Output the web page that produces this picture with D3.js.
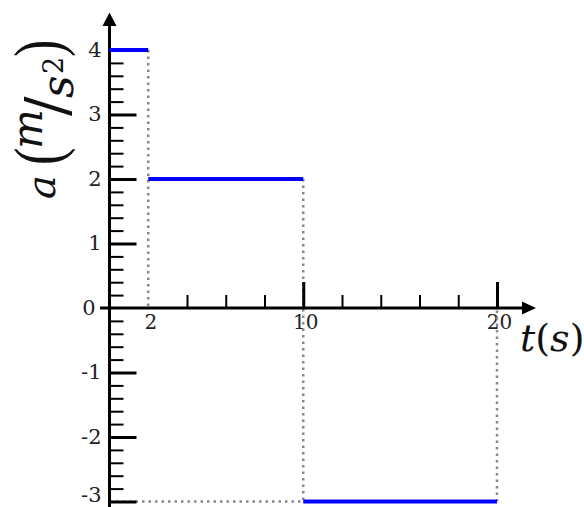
<!DOCTYPE html>
<html>
<head>
<meta charset="utf-8">
<script src="https://cdn.jsdelivr.net/npm/d3@7"></script>
<style>
  html, body { margin: 0; padding: 0; background: #ffffff; }
  svg { display: block; }
</style>
</head>
<body>
<div id="chart"></div>
<script>
// Piecewise-constant acceleration a(t)
const segStart = [0, 2, 10];
const segEnd   = [2, 10, 20];
const accel    = [4, 2, -3];

// Axis ticks
const yMajorTicks = [-3, -2, -1, 1, 2, 3];
const yLabelTicks = [-3, -2, -1, 0, 1, 2, 3, 4];
const yMinorTicks = [-2.8, -2.6, -2.4, -2.2, -1.8, -1.6, -1.4, -1.2, -0.8, -0.6, -0.4, -0.2,
                     0.2, 0.4, 0.6, 0.8, 1.2, 1.4, 1.6, 1.8, 2.2, 2.4, 2.6, 2.8, 3.2, 3.4, 3.6, 3.8];
const xMajorTicks = [10, 20];
const xMinorTicks = [4, 6, 8, 12, 14, 16, 18];
const xLabelTicks = [2, 10, 20];

const W = 584, H = 507;
const svg = d3.select("#chart").append("svg")
  .attr("width", W).attr("height", H)
  .style("background", "#fff");

const x = d3.scaleLinear().domain([0, 20]).range([109.5, 497]);
const y = d3.scaleLinear().domain([-3, 4]).range([501.5, 50]);

const serif = "'DejaVu Serif', serif";
const GRAY = "#888888";
const BLUE = "#0000ff";

// Tick labels on y (left of the axis)
const yLab = svg.append("g")
  .attr("transform", `translate(${x(0)},0)`)
  .call(d3.axisLeft(y).tickValues(yLabelTicks).tickSize(0).tickPadding(8)
        .tickFormat(d => d < 0 ? "-" + Math.abs(d) : String(d)));
yLab.select(".domain").remove();
yLab.selectAll("text")
  .attr("font-family", serif).attr("font-size", 21).attr("fill", "#222")
  .attr("dy", d => d === -3 ? "0.02em" : "0.3em")
  .attr("dx", d => d === 0 ? -6 : 0);

// Tick labels on t (below the axis)
const xLab = svg.append("g")
  .attr("transform", `translate(0,${y(0)})`)
  .call(d3.axisBottom(x).tickValues(xLabelTicks).tickSize(0).tickPadding(7));
xLab.select(".domain").remove();
xLab.selectAll("text")
  .attr("font-family", serif).attr("font-size", 20).attr("fill", "#222")
  .attr("dx", 2);

// Dotted guide lines at the jumps
const guides = [
  { x1: segEnd[0], y1: accel[0], x2: segEnd[0], y2: 0 },
  { x1: segEnd[1], y1: accel[1], x2: segEnd[1], y2: accel[2] },
  { x1: segEnd[2], y1: accel[2], x2: segEnd[2], y2: 0 },
  { x1: 0, y1: accel[2], x2: segStart[2], y2: accel[2] }
];
svg.append("g").selectAll("line").data(guides).join("line")
  .attr("x1", d => x(d.x1)).attr("y1", d => y(d.y1))
  .attr("x2", d => x(d.x2)).attr("y2", d => y(d.y2))
  .attr("stroke", GRAY).attr("stroke-width", 2.5)
  .attr("stroke-dasharray", "2.5,4");

// y ticks (pointing right)
function yTicks(vals, len, w) {
  const g = svg.append("g")
    .attr("transform", `translate(${x(0)},0)`)
    .call(d3.axisRight(y).tickValues(vals).tickSize(len).tickFormat(""));
  g.select(".domain").remove();
  g.selectAll("line").attr("stroke", "#000").attr("stroke-width", w);
}
yTicks(yMinorTicks, 14, 2);
yTicks(yMajorTicks, 27, 3);

// t ticks (pointing up)
function xTicks(vals, len, w) {
  const g = svg.append("g")
    .attr("transform", `translate(0,${y(0)})`)
    .call(d3.axisTop(x).tickValues(vals).tickSize(len).tickFormat(""));
  g.select(".domain").remove();
  g.selectAll("line").attr("stroke", "#000").attr("stroke-width", w);
}
xTicks(xMinorTicks, 13, 2);
xTicks(xMajorTicks, 26, 3);

// Axes with arrowheads
svg.append("line")
  .attr("x1", 100).attr("y1", y(0)).attr("x2", 526).attr("y2", y(0))
  .attr("stroke", "#000").attr("stroke-width", 3);
svg.append("path")
  .attr("d", `M522,${y(0) - 6.5} L536,${y(0)} L522,${y(0) + 6.5} Z`)
  .attr("fill", "#000");
svg.append("line")
  .attr("x1", x(0)).attr("y1", H).attr("x2", x(0)).attr("y2", 22)
  .attr("stroke", "#000").attr("stroke-width", 3);
svg.append("path")
  .attr("d", `M${x(0) - 7},26 L${x(0)},12.5 L${x(0) + 7},26 Z`)
  .attr("fill", "#000");

// Acceleration segments
svg.append("g").selectAll("line").data(accel).join("line")
  .attr("x1", (d, i) => x(segStart[i])).attr("x2", (d, i) => x(segEnd[i]))
  .attr("y1", d => y(d)).attr("y2", d => y(d))
  .attr("stroke", BLUE).attr("stroke-width", 4);

// Axis title t(s)
const tt = svg.append("text")
  .attr("x", 520).attr("y", 351)
  .attr("font-family", serif).attr("font-size", 38).attr("fill", "#111");
tt.append("tspan").attr("font-style", "italic").text("t");
tt.append("tspan").text("(");
tt.append("tspan").attr("font-style", "italic").text("s");
tt.append("tspan").text(")");

// Axis title a(m/s²), rotated; local coords: x along reading direction
const parenFont = "'Liberation Serif', serif";
const yt = svg.append("g").attr("transform", "rotate(-90)")
  .attr("font-family", serif).attr("fill", "#111");
yt.append("text").attr("x", -199).attr("y", 55)
  .attr("font-size", 40).attr("font-style", "italic").text("a");
yt.append("text").attr("transform", "translate(-165,61) scale(1,1.3)")
  .attr("font-family", parenFont).attr("font-size", 52).text("(");
yt.append("text").attr("x", -149).attr("y", 42)
  .attr("font-size", 42).attr("font-style", "italic").text("m");
yt.append("text").attr("x", -116).attr("y", 67)
  .attr("font-size", 58).text("/");
yt.append("text").attr("x", -98).attr("y", 73)
  .attr("font-size", 44).attr("font-style", "italic").text("s");
yt.append("text").attr("x", -74).attr("y", 63)
  .attr("font-size", 27).text("2");
yt.append("text").attr("transform", "translate(-57,61) scale(1,1.3)")
  .attr("font-family", parenFont).attr("font-size", 52).text(")");
</script>
</body>
</html>
